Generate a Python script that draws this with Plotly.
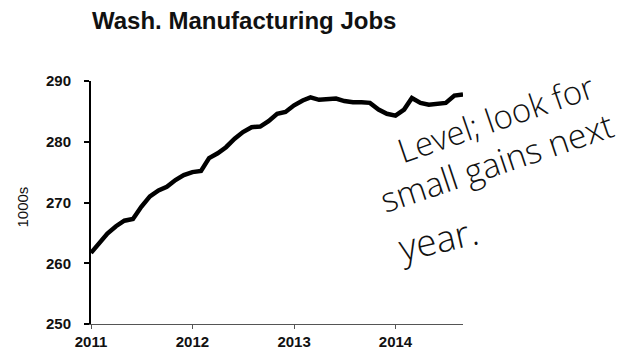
import plotly.graph_objects as go
import pandas as pd

# Data: monthly Washington manufacturing jobs (thousands), Jan 2011 - Sep 2014
months = pd.date_range("2011-01-01", "2014-09-01", freq="MS")
jobs = [261.7, 263.4, 264.9, 266.1, 267.0, 267.3, 269.3, 271.0, 272.0, 272.6, 273.7, 274.5,
        275.0, 275.2, 277.3, 278.1, 279.1, 280.5, 281.6, 282.4, 282.5, 283.4, 284.6, 284.9,
        286.0, 286.8, 287.3, 286.9, 287.0, 287.1, 286.7, 286.5, 286.5, 286.4, 285.3, 284.6,
        284.3, 285.3, 287.2, 286.4, 286.1, 286.3, 286.4, 287.6, 287.8]

y_ticks = [250, 260, 270, 280, 290]
x_ticks = ["2011-01-01", "2012-01-01", "2013-01-01", "2014-01-01"]
x_tick_labels = ["2011", "2012", "2013", "2014"]

title_text = "Wash. Manufacturing Jobs"
y_title = "1000s"
note_lines = ["Level; look for", "small gains next", "year."]

# page body has an 8px default margin; figure is sized/offset to compensate
OFF = 8
W, H = 634 - OFF, 351 - OFF
PL, PT, PW, PH = 91, 81, 372, 243          # plot area in screen pixels
L, T = PL - OFF, PT - OFF
R, B = W - L - PW, H - T - PH

def px(x):
    return (x - PL) / PW

def py(y):
    return (PT + PH - y) / PH

fig = go.Figure()
fig.add_trace(go.Scatter(x=months, y=jobs, mode="lines",
                         line=dict(color="black", width=4.5), hoverinfo="skip"))

fig.update_layout(
    width=W, height=H,
    margin=dict(l=L, r=R, t=T, b=B, pad=0, autoexpand=False),
    paper_bgcolor="white", plot_bgcolor="white",
    showlegend=False,
    title=dict(text="<b>" + title_text + "</b>", xref="container", yref="container",
               x=(92 - OFF) / W, xanchor="left", y=1 - (21 - OFF) / H, yanchor="middle",
               font=dict(family="Liberation Sans, Arial", size=24, color="#111")),
    xaxis=dict(range=["2011-01-01", "2014-09-01"], tickvals=x_ticks, ticktext=x_tick_labels,
               automargin=False,
               showgrid=False, zeroline=False, showline=True, linecolor="#555", linewidth=1,
               ticks="outside", ticklen=4, tickcolor="#555", tickwidth=1,
               tickfont=dict(family="Liberation Sans, Arial", size=15, color="#111", weight="bold")),
    yaxis=dict(range=[250, 290], tickvals=y_ticks, showgrid=False, zeroline=False,
               automargin=False,
               showline=True, linecolor="black", linewidth=2,
               ticks="outside", ticklen=5, tickcolor="black", tickwidth=1.5,
               ticklabelstandoff=10,
               tickfont=dict(family="Liberation Sans, Arial", size=15, color="#111", weight="bold")),
)

fig.add_annotation(text=y_title, xref="paper", yref="paper", x=px(21.5), y=py(207),
                   textangle=-90, showarrow=False, xanchor="center", yanchor="middle",
                   font=dict(family="Liberation Sans, Arial", size=15, color="#111"))

note_pos = [(495, 118, -19, 33), (497, 162, -18.5, 34), (438, 238, -13, 37)]
for txt, (cx, cy, ang, sz) in zip(note_lines, note_pos):
    fig.add_annotation(text=txt, xref="paper", yref="paper", x=px(cx), y=py(cy),
                       textangle=ang, showarrow=False, xanchor="center", yanchor="middle",
                       font=dict(family="Open Sans", size=sz, color="#111", weight=300))

fig.write_html("out.html")
